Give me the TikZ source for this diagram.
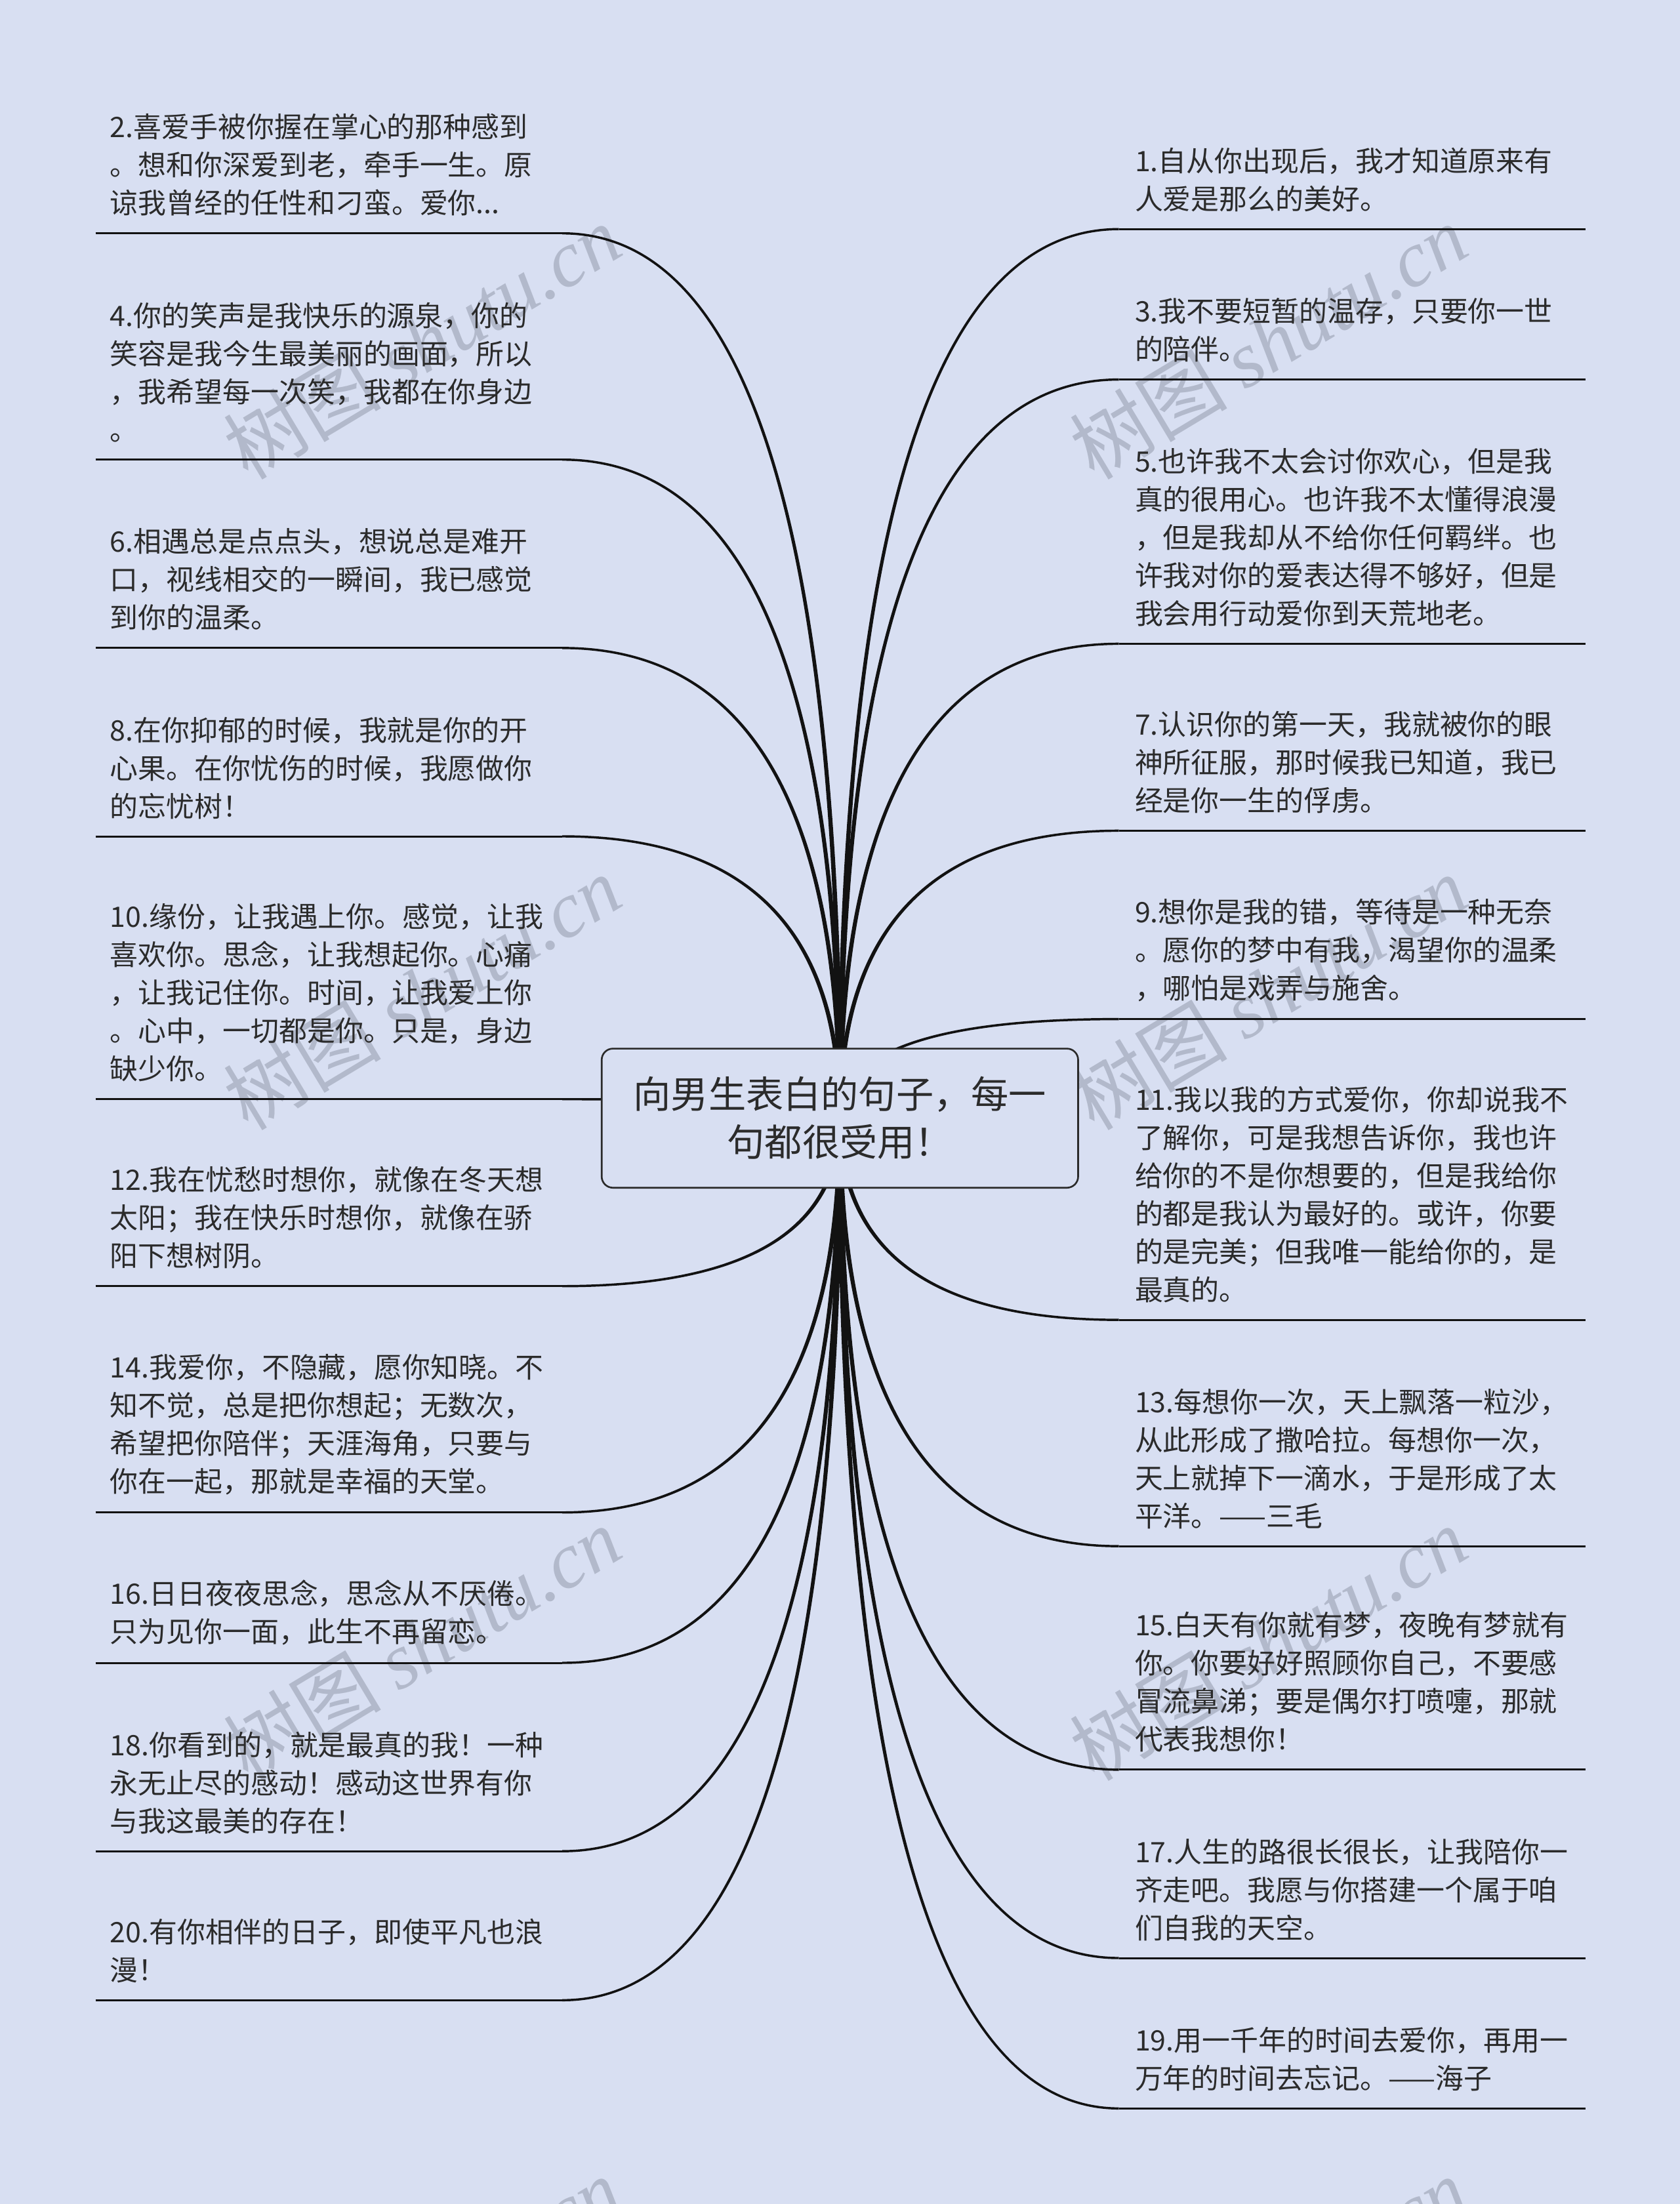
\documentclass[tikz,border=0pt]{standalone}
\usepackage{fontspec}
\setmainfont{Noto Sans CJK SC}
\newfontfamily\wmlatin{Liberation Serif}
\usetikzlibrary{calc}
\definecolor{paper}{HTML}{D8DFF2}
\definecolor{ink}{HTML}{2B2B2B}
\definecolor{wmgray}{HTML}{B2B9CB}

% tapered branch from the hub to an end point: #1 end, #2 x sign, #3 y sign
\newcommand{\branch}[3]{%
  \path (hub |- #1) ++({-1*(#2)*0.9},{(#3)*0.9}) coordinate (ca)
        (hub |- #1) ++({(#2)*0.9},{-1*(#3)*0.9}) coordinate (cb)
        (hub) ++({-1*(#2)*1.8},0) coordinate (sa)
        (hub) ++({(#2)*1.8},0) coordinate (sb)
        (#1) ++(0,{(#3)*0.8}) coordinate (ea)
        (#1) ++(0,{-1*(#3)*0.8}) coordinate (eb);
  \fill[branchfill] (sa) .. controls ($(sa)!2/3!(ca)$) and ($(ea)!2/3!(ca)$) .. (ea)
    -- (eb) .. controls ($(eb)!2/3!(cb)$) and ($(sb)!2/3!(cb)$) .. (sb) -- cycle;}

\begin{document}
\begin{tikzpicture}[
    x=0.02cm, y=-0.02cm,
    quote/.style={anchor=south west, align=left, inner sep=0pt, text=ink, font=\fontsize{11.4}{15.4}\selectfont},
    rootbox/.style={rectangle, rounded corners=0.16cm, draw=ink, line width=0.7pt, fill=paper, text=ink, align=center, minimum width=6.78cm, minimum height=1.98cm, inner sep=0pt, font=\fontsize{15.2}{19.4}\selectfont},
    underline/.style={line width=0.8pt, draw=black!93},
    branchfill/.style={fill=black!93},
    wmark/.style={text=wmgray, rotate=31, inner sep=0pt, font=\fontsize{32}{32}\selectfont},
]

% Background
\path[use as bounding box, fill=paper] (0,0) rectangle (1195,1568);

% Watermarks
\foreach \y in {243,706,1169,1632} {
  \node[wmark] (wml\y) at (300,\y) {树图 {\wmlatin\itshape shutu.cn}};
  \node[wmark] (wmr\y) at (902,\y) {树图 {\wmlatin\itshape shutu.cn}};
}

% Hub and branch ends
\coordinate (hub) at (597.5,795.5);
\foreach \n/\u in {2/166,4/327,6/461,8/595,10/782,12/915,14/1076,16/1183,18/1317,20/1423} {
  \coordinate (a\n) at (68,\u);
  \coordinate (e\n) at (400,\u);
}
\foreach \n/\u in {1/163,3/270,5/458,7/591,9/725,11/939,13/1100,15/1259,17/1393,19/1500} {
  \coordinate (e\n) at (796,\u);
  \coordinate (b\n) at (1128,\u);
}

% Branches
\foreach \n in {2,4,6,8,10} {\branch{e\n}{-1}{-1}}
\foreach \n in {12,14,16,18,20} {\branch{e\n}{-1}{1}}
\foreach \n in {1,3,5,7,9} {\branch{e\n}{1}{-1}}
\foreach \n in {11,13,15,17,19} {\branch{e\n}{1}{1}}

% Underlines
\foreach \n in {2,4,...,20} {\draw[underline] (a\n) -- (e\n);}
\foreach \n in {1,3,...,19} {\draw[underline] (e\n) -- (b\n);}

% Root
\node[rootbox] (root) at (hub) {向男生表白的句子，每一\\句都很受用！};

% Left quotes
\node[quote] (t2) at ($(a2)+(10,-12)$) {2.喜爱手被你握在掌心的那种感到\\。想和你深爱到老，牵手一生。原\\谅我曾经的任性和刁蛮。爱你...};
\node[quote] (t4) at ($(a4)+(10,-12)$) {4.你的笑声是我快乐的源泉，你的\\笑容是我今生最美丽的画面，所以\\，我希望每一次笑，我都在你身边\\。};
\node[quote] (t6) at ($(a6)+(10,-12)$) {6.相遇总是点点头，想说总是难开\\口，视线相交的一瞬间，我已感觉\\到你的温柔。};
\node[quote] (t8) at ($(a8)+(10,-12)$) {8.在你抑郁的时候，我就是你的开\\心果。在你忧伤的时候，我愿做你\\的忘忧树！};
\node[quote] (t10) at ($(a10)+(10,-12)$) {10.缘份，让我遇上你。感觉，让我\\喜欢你。思念，让我想起你。心痛\\，让我记住你。时间，让我爱上你\\。心中，一切都是你。只是，身边\\缺少你。};
\node[quote] (t12) at ($(a12)+(10,-12)$) {12.我在忧愁时想你，就像在冬天想\\太阳；我在快乐时想你，就像在骄\\阳下想树阴。};
\node[quote] (t14) at ($(a14)+(10,-12)$) {14.我爱你，不隐藏，愿你知晓。不\\知不觉，总是把你想起；无数次，\\希望把你陪伴；天涯海角，只要与\\你在一起，那就是幸福的天堂。};
\node[quote] (t16) at ($(a16)+(10,-12)$) {16.日日夜夜思念，思念从不厌倦。\\只为见你一面，此生不再留恋。};
\node[quote] (t18) at ($(a18)+(10,-12)$) {18.你看到的，就是最真的我！一种\\永无止尽的感动！感动这世界有你\\与我这最美的存在！};
\node[quote] (t20) at ($(a20)+(10,-12)$) {20.有你相伴的日子，即使平凡也浪\\漫！};

% Right quotes
\node[quote] (t1) at ($(e1)+(11,-12)$) {1.自从你出现后，我才知道原来有\\人爱是那么的美好。};
\node[quote] (t3) at ($(e3)+(11,-12)$) {3.我不要短暂的温存，只要你一世\\的陪伴。};
\node[quote] (t5) at ($(e5)+(11,-12)$) {5.也许我不太会讨你欢心，但是我\\真的很用心。也许我不太懂得浪漫\\，但是我却从不给你任何羁绊。也\\许我对你的爱表达得不够好，但是\\我会用行动爱你到天荒地老。};
\node[quote] (t7) at ($(e7)+(11,-12)$) {7.认识你的第一天，我就被你的眼\\神所征服，那时候我已知道，我已\\经是你一生的俘虏。};
\node[quote] (t9) at ($(e9)+(11,-12)$) {9.想你是我的错，等待是一种无奈\\。愿你的梦中有我，渴望你的温柔\\，哪怕是戏弄与施舍。};
\node[quote] (t11) at ($(e11)+(11,-12)$) {11.我以我的方式爱你，你却说我不\\了解你，可是我想告诉你，我也许\\给你的不是你想要的，但是我给你\\的都是我认为最好的。或许，你要\\的是完美；但我唯一能给你的，是\\最真的。};
\node[quote] (t13) at ($(e13)+(11,-12)$) {13.每想你一次，天上飘落一粒沙，\\从此形成了撒哈拉。每想你一次，\\天上就掉下一滴水，于是形成了太\\平洋。——三毛};
\node[quote] (t15) at ($(e15)+(11,-12)$) {15.白天有你就有梦，夜晚有梦就有\\你。你要好好照顾你自己，不要感\\冒流鼻涕；要是偶尔打喷嚏，那就\\代表我想你！};
\node[quote] (t17) at ($(e17)+(11,-12)$) {17.人生的路很长很长，让我陪你一\\齐走吧。我愿与你搭建一个属于咱\\们自我的天空。};
\node[quote] (t19) at ($(e19)+(11,-12)$) {19.用一千年的时间去爱你，再用一\\万年的时间去忘记。——海子};

\end{tikzpicture}
\end{document}
